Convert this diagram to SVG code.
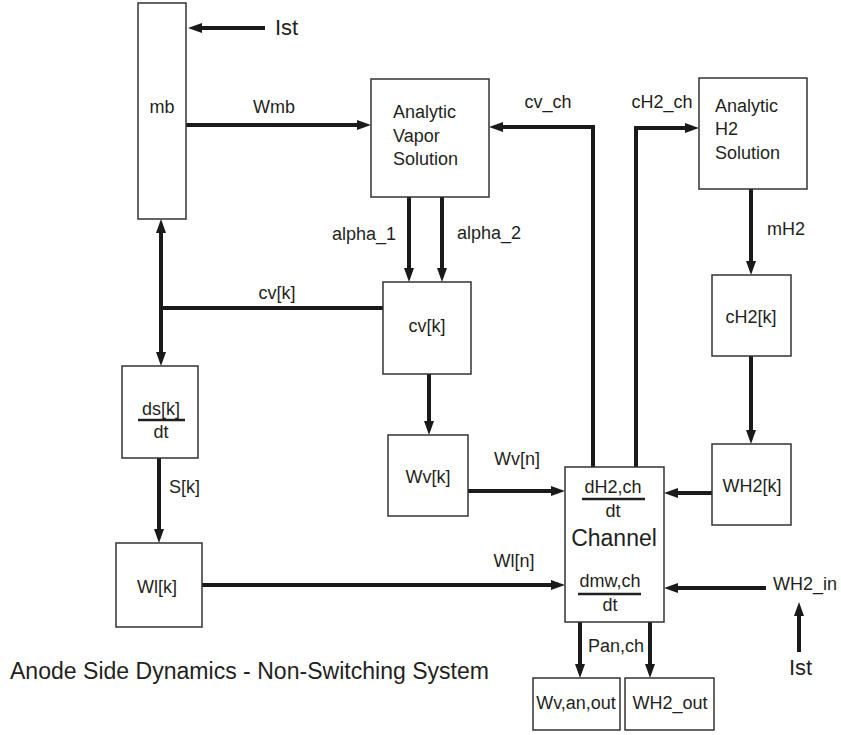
<svg xmlns="http://www.w3.org/2000/svg" width="841" height="735" viewBox="0 0 841 735">
<style>
text{font-family:"Liberation Sans",Arial,sans-serif;font-size:18px;fill:#231f20}
.box{fill:#fff;stroke:#333;stroke-width:1.5}
.c{stroke:#1a1a1a;stroke-width:4;fill:none}
.f{stroke:#231f20;stroke-width:2.5}
.m{text-anchor:middle}
.big{font-size:22px}
</style>
<defs>
<marker id="ar" markerUnits="userSpaceOnUse" markerWidth="14" markerHeight="10" viewBox="0 0 14 10" refX="2" refY="5" orient="auto">
<path d="M0,0 L14,5 L0,10 z" fill="#1a1a1a"/>
</marker>
</defs>
<rect width="841" height="735" fill="#fff"/>
<g id="connectors">
<path class="c" d="M265,28 H200" marker-end="url(#ar)"/>
<path class="c" d="M186,125 H359" marker-end="url(#ar)"/>
<path class="c" d="M593,467 V127 H501" marker-end="url(#ar)"/>
<path class="c" d="M636,467 V128 H687" marker-end="url(#ar)"/>
<path class="c" d="M751,189 V263" marker-end="url(#ar)"/>
<path class="c" d="M409,197 V270" marker-end="url(#ar)"/>
<path class="c" d="M442,197 V270" marker-end="url(#ar)"/>
<path class="c" d="M383,308 H161"/>
<path class="c" d="M161,310 V231" marker-end="url(#ar)"/>
<path class="c" d="M161,306 V354" marker-end="url(#ar)"/>
<path class="c" d="M429,374 V423" marker-end="url(#ar)"/>
<path class="c" d="M159,458 V531" marker-end="url(#ar)"/>
<path class="c" d="M468,491 H553" marker-end="url(#ar)"/>
<path class="c" d="M202,585 H553" marker-end="url(#ar)"/>
<path class="c" d="M712,493 H676" marker-end="url(#ar)"/>
<path class="c" d="M751,356 V432" marker-end="url(#ar)"/>
<path class="c" d="M766,588 H676" marker-end="url(#ar)"/>
<path class="c" d="M799,652 V614" marker-end="url(#ar)"/>
<path class="c" d="M580,622 V666" marker-end="url(#ar)"/>
<path class="c" d="M650,622 V666" marker-end="url(#ar)"/>
</g>
<g id="labels">
<text x="275" y="35" class="big">Ist</text>
<text x="274" y="113" class="m">Wmb</text>
<text x="548" y="108" class="m">cv_ch</text>
<text x="662" y="108" class="m">cH2_ch</text>
<text x="767" y="235">mH2</text>
<text x="396" y="240" text-anchor="end">alpha_1</text>
<text x="457" y="239">alpha_2</text>
<text x="277" y="299" class="m">cv[k]</text>
<text x="169" y="493">S[k]</text>
<text x="517" y="465" class="m">Wv[n]</text>
<text x="514" y="567" class="m">Wl[n]</text>
<text x="773" y="590">WH2_in</text>
<text x="789" y="675" class="big">Ist</text>
<text x="588" y="652">Pan,ch</text>
<text x="10" y="679" style="font-size:23px" textLength="479" lengthAdjust="spacingAndGlyphs">Anode Side Dynamics - Non-Switching System</text>
</g>
<g id="mb">
<rect class="box" x="138" y="3" width="48" height="216"/>
<text x="162" y="113" class="m">mb</text>
</g>
<g id="analytic-vapor">
<rect class="box" x="371" y="79" width="118" height="118"/>
<text x="393" y="118">Analytic</text>
<text x="393" y="142">Vapor</text>
<text x="393" y="165">Solution</text>
</g>
<g id="analytic-h2">
<rect class="box" x="699" y="78" width="108" height="111"/>
<text x="715" y="112">Analytic</text>
<text x="715" y="135">H2</text>
<text x="715" y="159">Solution</text>
</g>
<g id="cvk">
<rect class="box" x="383" y="282" width="88" height="92"/>
<text x="427" y="332" class="m">cv[k]</text>
</g>
<g id="ch2k">
<rect class="box" x="712" y="275" width="79" height="81"/>
<text x="751" y="323" class="m">cH2[k]</text>
</g>
<g id="dsdt">
<rect class="box" x="122" y="366" width="76" height="92"/>
<text x="161" y="415" class="m">ds[k]</text>
<line class="f" x1="138" y1="420" x2="185" y2="420"/>
<text x="161" y="438" class="m">dt</text>
</g>
<g id="wvk">
<rect class="box" x="388" y="435" width="80" height="81"/>
<text x="428" y="483" class="m">Wv[k]</text>
</g>
<g id="wh2k">
<rect class="box" x="712" y="444" width="79" height="81"/>
<text x="752" y="492" class="m">WH2[k]</text>
</g>
<g id="channel">
<rect class="box" x="565" y="467" width="99" height="155"/>
<text x="613" y="493" class="m">dH2,ch</text>
<line class="f" x1="582" y1="499" x2="645" y2="499"/>
<text x="613" y="517" class="m">dt</text>
<text x="614" y="546" class="m" style="font-size:23px">Channel</text>
<text x="610" y="587" class="m">dmw,ch</text>
<line class="f" x1="578" y1="594" x2="641" y2="594"/>
<text x="610" y="611" class="m">dt</text>
</g>
<g id="wlk">
<rect class="box" x="116" y="543" width="86" height="84"/>
<text x="157" y="593" class="m">Wl[k]</text>
</g>
<g id="wvanout">
<rect class="box" x="533" y="678" width="87" height="52"/>
<text x="576" y="709" class="m">Wv,an,out</text>
</g>
<g id="wh2out">
<rect class="box" x="625" y="678" width="89" height="52"/>
<text x="670" y="709" class="m">WH2_out</text>
</g>
</svg>
